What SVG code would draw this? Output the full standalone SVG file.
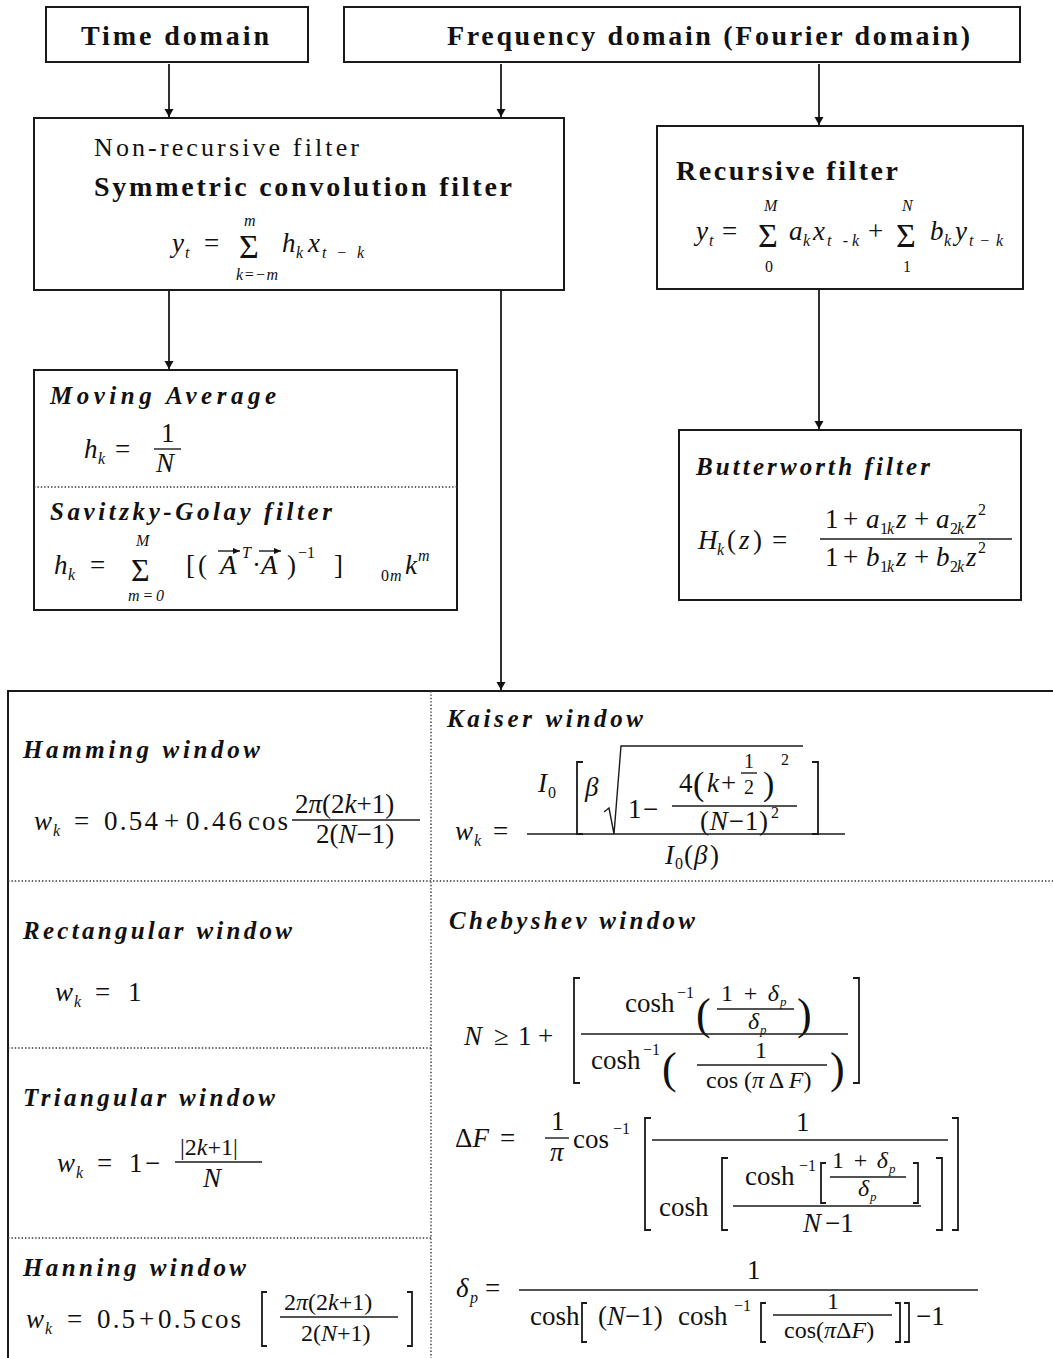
<svg xmlns="http://www.w3.org/2000/svg" width="1053" height="1358" viewBox="0 0 1053 1358">
<defs>
<marker id="ah" viewBox="0 0 8 14" refX="8" refY="7" markerWidth="8" markerHeight="14" markerUnits="userSpaceOnUse" orient="auto"><path d="M0,2.5 L8,7 L0,11.5 z" fill="#111"/></marker>
<marker id="va" viewBox="0 0 8 8" refX="8" refY="4" markerWidth="7" markerHeight="7" markerUnits="userSpaceOnUse" orient="auto"><path d="M0,0.5 L8,4 L0,7.5 z" fill="#111"/></marker>
<style>
.box{fill:none;stroke:#1a1a1a;stroke-width:2}
.dot{fill:none;stroke:#333;stroke-width:1.4;stroke-dasharray:1.4 2}
.conn{fill:none;stroke:#1a1a1a;stroke-width:1.8;marker-end:url(#ah)}
.ln{fill:none;stroke:#1a1a1a;stroke-width:1.4}
.br{fill:none;stroke:#1a1a1a;stroke-width:1.8}
text{font-family:"Liberation Serif","DejaVu Serif",serif;fill:#111}
.hd{font-size:28px;font-weight:bold}
.hr{font-size:26px}
.hi{font-size:25px;font-weight:bold;font-style:italic}
.mi{font-size:27px;font-style:italic}
.mr{font-size:27px}
.si{font-size:16px;font-style:italic}
.sr{font-size:16px}
.fi{font-size:24px;font-style:italic}
.fr{font-size:24px}
.big{font-size:34px}
</style>
</defs>

<g id="connectors">
<path class="conn" d="M169,64 V117"/>
<path class="conn" d="M501,64 V117"/>
<path class="conn" d="M819,64 V125"/>
<path class="conn" d="M169,291 V369"/>
<path class="conn" d="M501,291 V690"/>
<path class="conn" d="M819,290 V429"/>
</g>

<g id="time-domain">
<rect class="box" x="46" y="7" width="262" height="55"/>
<text class="hd" x="81" y="45" textLength="188" lengthAdjust="spacing">Time domain</text>
</g>

<g id="frequency-domain">
<rect class="box" x="344" y="7" width="676" height="55"/>
<text class="hd" x="447" y="45" textLength="523" lengthAdjust="spacing">Frequency domain (Fourier domain)</text>
</g>

<g id="non-recursive">
<rect class="box" x="34" y="118" width="530" height="172"/>
<text class="hr" x="94" y="156" textLength="265" lengthAdjust="spacing">Non-recursive filter</text>
<text class="hd" x="94" y="196" textLength="418" lengthAdjust="spacing">Symmetric convolution filter</text>
<text class="mi" x="172" y="252">y</text><text class="si" x="185" y="258">t</text>
<text class="mr" x="204" y="252">=</text>
<text class="big" x="239" y="258">Σ</text>
<text class="si" x="244" y="226">m</text>
<text class="si" x="236" y="280" textLength="42" lengthAdjust="spacing">k=−m</text>
<text class="mi" x="282" y="252">h</text><text class="si" x="296" y="258">k</text>
<text class="mi" x="308" y="252">x</text><text class="si" x="322" y="258" textLength="42" lengthAdjust="spacing">t−k</text>
</g>

<g id="recursive">
<rect class="box" x="657" y="126" width="366" height="163"/>
<text class="hd" x="676" y="180" textLength="222" lengthAdjust="spacing">Recursive filter</text>
<text class="mi" x="696" y="240">y</text><text class="si" x="709" y="246">t</text>
<text class="mr" x="722" y="240">=</text>
<text class="big" x="758" y="247">Σ</text>
<text class="si" x="764" y="211">M</text>
<text class="sr" x="765" y="272">0</text>
<text class="mi" x="789" y="240">a</text><text class="si" x="803" y="246">k</text>
<text class="mi" x="813" y="240">x</text><text class="si" x="827" y="246" textLength="32" lengthAdjust="spacing">t -k</text>
<text class="mr" x="868" y="240">+</text>
<text class="big" x="896" y="247">Σ</text>
<text class="si" x="902" y="211">N</text>
<text class="sr" x="903" y="272">1</text>
<text class="mi" x="930" y="240">b</text><text class="si" x="944" y="246">k</text>
<text class="mi" x="955" y="240">y</text><text class="si" x="969" y="246" textLength="34" lengthAdjust="spacing">t−k</text>
</g>

<g id="moving-average">
<rect class="box" x="34" y="370" width="423" height="240"/>
<line class="dot" x1="34" y1="487" x2="457" y2="487"/>
<text class="hi" x="50" y="404" textLength="226" lengthAdjust="spacing">Moving Average</text>
<text class="mi" x="84" y="458">h</text><text class="si" x="98" y="464">k</text>
<text class="mr" x="115" y="458">=</text>
<text class="mr" x="161" y="442">1</text>
<line class="ln" x1="154" y1="449" x2="181" y2="449"/>
<text class="mi" x="156" y="472">N</text>
<text class="hi" x="50" y="520" textLength="282" lengthAdjust="spacing">Savitzky-Golay filter</text>
<text class="mi" x="54" y="574">h</text><text class="si" x="68" y="580">k</text>
<text class="mr" x="90" y="574">=</text>
<text class="big" x="131" y="581" style="font-size:32px">Σ</text>
<text class="si" x="136" y="546">M</text>
<text class="si" x="128" y="601" textLength="36" lengthAdjust="spacing">m=0</text>
<text class="mr" x="186" y="574">[</text>
<text class="mr" x="198" y="574">(</text>
<text class="mi" x="220" y="574">A</text>
<path class="ln" d="M218,551 H240" marker-end="url(#va)"/>
<text class="si" x="242" y="558">T</text>
<text class="mr" x="252" y="574">·</text>
<text class="mi" x="261" y="574">A</text>
<path class="ln" d="M259,551 H281" marker-end="url(#va)"/>
<text class="mr" x="287" y="574">)</text>
<text class="sr" x="298" y="558">−1</text>
<text class="mr" x="334" y="574">]</text>
<text class="sr" x="381" y="581">0</text><text class="si" x="390" y="581">m</text>
<text class="mi" x="405" y="574">k</text><text class="si" x="418" y="561">m</text>
</g>

<g id="butterworth">
<rect class="box" x="679" y="430" width="342" height="170"/>
<text class="hi" x="696" y="475" textLength="234" lengthAdjust="spacing">Butterworth filter</text>
<text class="mi" x="698" y="549">H</text><text class="si" x="717" y="555">k</text>
<text class="mr" x="727" y="549">(</text><text class="mi" x="739" y="549">z</text><text class="mr" x="753" y="549">)</text>
<text class="mr" x="772" y="549">=</text>
<text class="mr" x="825" y="528">1</text><text class="mr" x="843" y="528">+</text>
<text class="mi" x="866" y="528">a</text><text class="sr" x="880" y="534">1</text><text class="si" x="887" y="534">k</text>
<text class="mi" x="896" y="528">z</text><text class="mr" x="914" y="528">+</text>
<text class="mi" x="936" y="528">a</text><text class="sr" x="950" y="534">2</text><text class="si" x="957" y="534">k</text>
<text class="mi" x="966" y="528">z</text><text class="sr" x="978" y="515">2</text>
<line class="ln" x1="820" y1="539" x2="1012" y2="539"/>
<text class="mr" x="825" y="566">1</text><text class="mr" x="843" y="566">+</text>
<text class="mi" x="866" y="566">b</text><text class="sr" x="880" y="572">1</text><text class="si" x="887" y="572">k</text>
<text class="mi" x="896" y="566">z</text><text class="mr" x="914" y="566">+</text>
<text class="mi" x="936" y="566">b</text><text class="sr" x="950" y="572">2</text><text class="si" x="957" y="572">k</text>
<text class="mi" x="966" y="566">z</text><text class="sr" x="978" y="553">2</text>
</g>

<g id="window-table">
<path class="box" d="M8,1358 V691 H1053"/>
<line class="dot" x1="431" y1="691" x2="431" y2="1358"/>
<line class="dot" x1="8" y1="881" x2="1053" y2="881"/>
<line class="dot" x1="8" y1="1048" x2="431" y2="1048"/>
<line class="dot" x1="8" y1="1238" x2="431" y2="1238"/>
</g>

<g id="hamming">
<text class="hi" x="23" y="758" textLength="237" lengthAdjust="spacing">Hamming window</text>
<text class="mi" x="34" y="830">w</text><text class="si" x="53" y="836">k</text>
<text class="mr" x="74" y="830">=</text>
<text class="mr" x="104" y="830" textLength="54" lengthAdjust="spacing">0.54</text>
<text class="mr" x="164" y="830">+</text>
<text class="mr" x="186" y="830" textLength="56" lengthAdjust="spacing">0.46</text>
<text class="mr" x="248" y="830" textLength="40" lengthAdjust="spacing">cos</text>
<text class="mr" x="295" y="813">2<tspan class="mi">π</tspan>(2<tspan class="mi">k</tspan>+1)</text>
<line class="ln" x1="292" y1="820" x2="420" y2="820"/>
<text class="mr" x="316" y="843">2(<tspan class="mi">N</tspan>−1)</text>
</g>

<g id="kaiser">
<text class="hi" x="447" y="727" textLength="196" lengthAdjust="spacing">Kaiser window</text>
<text class="mi" x="455" y="840">w</text><text class="si" x="474" y="846">k</text>
<text class="mr" x="493" y="840">=</text>
<line class="ln" x1="527" y1="834" x2="845" y2="834"/>
<text class="mi" x="538" y="792">I</text><text class="sr" x="548" y="798">0</text>
<path class="br" d="M583,762 H577 V834 H583"/>
<text class="mi" x="585" y="796">β</text>
<path class="ln" d="M604,812 L609,808 L614,834 L621,746 H803"/>
<text class="mr" x="628" y="818">1</text><text class="mr" x="643" y="818">−</text>
<text class="mr" x="679" y="792">4</text>
<text class="mr" x="693" y="795" style="font-size:34px">(</text>
<text class="mi" x="707" y="792">k</text><text class="mr" x="721" y="792">+</text>
<text class="mr" x="744" y="768" style="font-size:20px">1</text>
<line class="ln" x1="741" y1="773" x2="757" y2="773"/>
<text class="mr" x="744" y="794" style="font-size:20px">2</text>
<text class="mr" x="763" y="795" style="font-size:34px">)</text>
<text class="sr" x="781" y="765">2</text>
<line class="ln" x1="672" y1="806" x2="797" y2="806"/>
<text class="mr" x="700" y="830" textLength="68" lengthAdjust="spacing">(<tspan class="mi">N</tspan>−1)</text>
<text class="sr" x="771" y="818">2</text>
<path class="br" d="M812,762 H818 V834 H812"/>
<text class="mi" x="665" y="864">I</text><text class="sr" x="675" y="869">0</text>
<text class="mr" x="684" y="864">(</text><text class="mi" x="694" y="864">β</text><text class="mr" x="710" y="864">)</text>
</g>

<g id="rectangular">
<text class="hi" x="23" y="939" textLength="269" lengthAdjust="spacing">Rectangular window</text>
<text class="mi" x="55" y="1001">w</text><text class="si" x="74" y="1007">k</text>
<text class="mr" x="95" y="1001">=</text>
<text class="mr" x="128" y="1001">1</text>
</g>

<g id="triangular">
<text class="hi" x="23" y="1106" textLength="252" lengthAdjust="spacing">Triangular window</text>
<text class="mi" x="57" y="1172">w</text><text class="si" x="76" y="1178">k</text>
<text class="mr" x="97" y="1172">=</text>
<text class="mr" x="129" y="1172">1</text><text class="mr" x="145" y="1172">−</text>
<text class="fr" x="180" y="1155">|2<tspan class="fi">k</tspan>+1|</text>
<line class="ln" x1="175" y1="1162" x2="262" y2="1162"/>
<text class="mi" x="203" y="1187">N</text>
</g>

<g id="hanning">
<text class="hi" x="23" y="1276" textLength="223" lengthAdjust="spacing">Hanning window</text>
<text class="mi" x="26" y="1328">w</text><text class="si" x="45" y="1334">k</text>
<text class="mr" x="67" y="1328">=</text>
<text class="mr" x="97" y="1328" textLength="38" lengthAdjust="spacing">0.5</text>
<text class="mr" x="139" y="1328">+</text>
<text class="mr" x="158" y="1328" textLength="38" lengthAdjust="spacing">0.5</text>
<text class="mr" x="201" y="1328" textLength="40" lengthAdjust="spacing">cos</text>
<path class="br" d="M267,1292 H262 V1346 H267"/>
<text class="fr" x="284" y="1310">2<tspan class="fi">π</tspan>(2<tspan class="fi">k</tspan>+1)</text>
<line class="ln" x1="280" y1="1317" x2="398" y2="1317"/>
<text class="fr" x="301" y="1341">2(<tspan class="fi">N</tspan>+1)</text>
<path class="br" d="M407,1292 H412 V1346 H407"/>
</g>

<g id="chebyshev">
<text class="hi" x="449" y="929" textLength="246" lengthAdjust="spacing">Chebyshev window</text>
<text class="mi" x="464" y="1045">N</text><text class="mr" x="494" y="1045">≥</text>
<text class="mr" x="518" y="1045">1</text><text class="mr" x="538" y="1045">+</text>
<path class="br" d="M580,978 H574 V1083 H580"/>
<text class="mr" x="625" y="1012">cosh</text><text class="sr" x="677" y="998">−1</text>
<text class="mr" x="696" y="1029" style="font-size:44px">(</text>
<text class="fr" x="721" y="1001" textLength="58" lengthAdjust="spacing">1 + <tspan class="fi">δ</tspan></text><text class="si" x="780" y="1006" style="font-size:13px">p</text>
<line class="ln" x1="717" y1="1009" x2="794" y2="1009"/>
<text class="fi" x="748" y="1029">δ</text><text class="si" x="760" y="1034" style="font-size:13px">p</text>
<text class="mr" x="797" y="1029" style="font-size:44px">)</text>
<line class="ln" x1="581" y1="1034" x2="848" y2="1034"/>
<text class="mr" x="591" y="1069">cosh</text><text class="sr" x="643" y="1055">−1</text>
<text class="mr" x="662" y="1083" style="font-size:44px">(</text>
<text class="fr" x="755" y="1058">1</text>
<line class="ln" x1="697" y1="1065" x2="827" y2="1065"/>
<text class="fr" x="706" y="1088">cos (<tspan class="fi">π</tspan> Δ <tspan class="fi">F</tspan>)</text>
<text class="mr" x="830" y="1083" style="font-size:44px">)</text>
<path class="br" d="M853,978 H859 V1083 H853"/>

<text class="mr" x="455" y="1147">Δ<tspan class="mi">F</tspan></text>
<text class="mr" x="500" y="1147">=</text>
<text class="mr" x="551" y="1130">1</text>
<line class="ln" x1="545" y1="1138" x2="569" y2="1138"/>
<text class="mi" x="550" y="1161">π</text>
<text class="mr" x="573" y="1148">cos</text><text class="sr" x="613" y="1134">−1</text>
<path class="br" d="M651,1118 H645 V1230 H651"/>
<text class="mr" x="796" y="1131">1</text>
<line class="ln" x1="652" y1="1140" x2="948" y2="1140"/>
<text class="mr" x="659" y="1216">cosh</text>
<path class="br" d="M728,1158 H722 V1230 H728"/>
<text class="mr" x="745" y="1185">cosh</text><text class="sr" x="799" y="1171">−1</text>
<path class="br" d="M826,1163 H821 V1203 H826"/>
<text class="fr" x="832" y="1168" textLength="56" lengthAdjust="spacing">1 + <tspan class="fi">δ</tspan></text><text class="si" x="889" y="1173" style="font-size:13px">p</text>
<line class="ln" x1="830" y1="1177" x2="906" y2="1177"/>
<text class="fi" x="858" y="1196">δ</text><text class="si" x="870" y="1201" style="font-size:13px">p</text>
<path class="br" d="M913,1163 H918 V1203 H913"/>
<line class="ln" x1="733" y1="1206" x2="921" y2="1206"/>
<text class="mi" x="803" y="1232">N</text><text class="mr" x="825" y="1232">−1</text>
<path class="br" d="M936,1158 H942 V1230 H936"/>
<path class="br" d="M952,1118 H958 V1230 H952"/>

<text class="mi" x="456" y="1297">δ</text><text class="si" x="470" y="1303">p</text>
<text class="mr" x="485" y="1297">=</text>
<text class="mr" x="747" y="1279">1</text>
<line class="ln" x1="519" y1="1290" x2="978" y2="1290"/>
<text class="mr" x="530" y="1325">cosh</text>
<path class="br" d="M587,1303 H582 V1342 H587"/>
<text class="mr" x="598" y="1325">(<tspan class="mi">N</tspan>−1)</text>
<text class="mr" x="678" y="1325">cosh</text><text class="sr" x="734" y="1311">−1</text>
<path class="br" d="M766,1303 H761 V1342 H766"/>
<text class="fr" x="827" y="1309">1</text>
<line class="ln" x1="773" y1="1315" x2="892" y2="1315"/>
<text class="fr" x="784" y="1338">cos(<tspan class="fi">π</tspan>Δ<tspan class="fi">F</tspan>)</text>
<path class="br" d="M895,1303 H900 V1342 H895"/>
<path class="br" d="M904,1303 H909 V1342 H904"/>
<text class="mr" x="916" y="1325">−1</text>
</g>
</svg>
